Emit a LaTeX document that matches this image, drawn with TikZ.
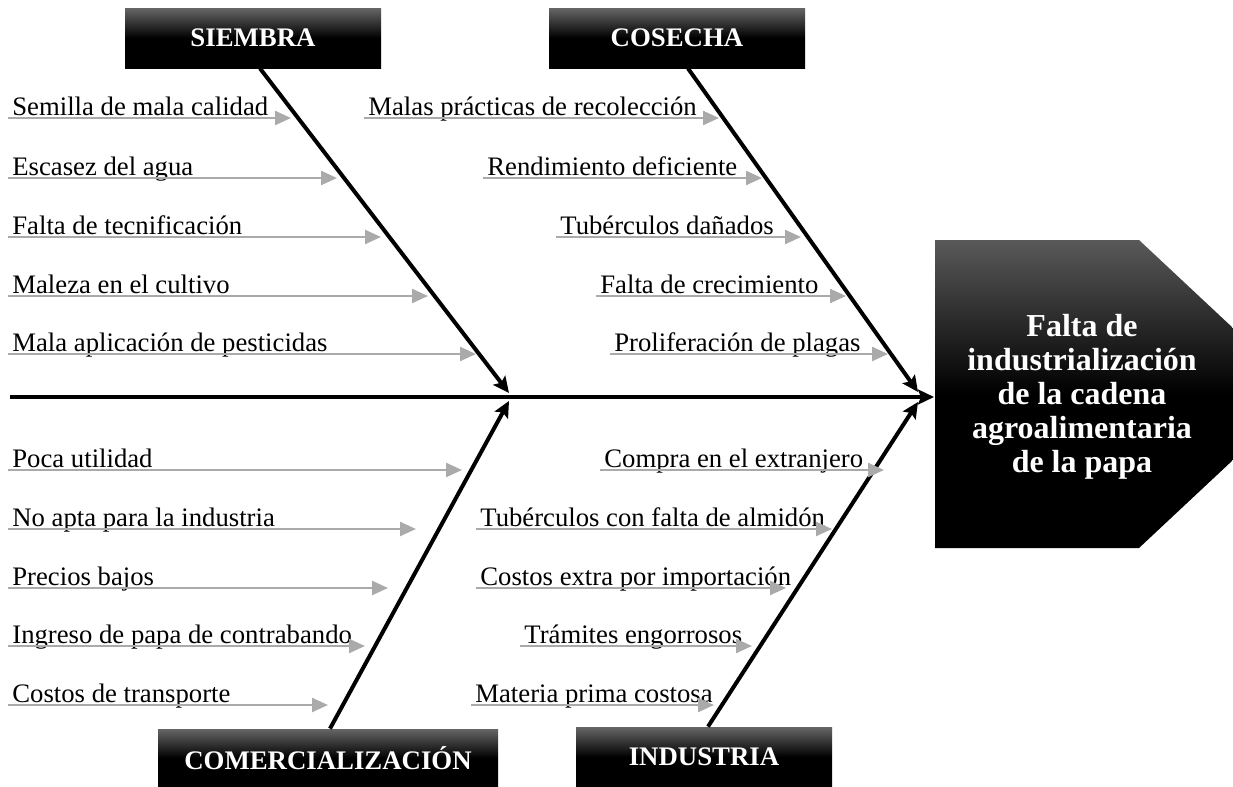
\documentclass[tikz,border=0pt]{standalone}
\usepackage{fontspec}
\setmainfont{Liberation Serif}
\usetikzlibrary{arrows.meta}
\definecolor{grisflecha}{RGB}{170,170,170}

\begin{document}
\begin{tikzpicture}[x=0.5pt,y=-0.5pt,
  causa/.style={font=\fontsize{13.35}{16}\selectfont, anchor=base west, inner sep=0pt},
  flecha/.style={grisflecha, line width=1.2pt, -{Triangle[length=8pt,width=7pt]}},
  espina/.style={line width=2pt, -{Stealth[length=8pt,width=7.5pt,inset=1.5pt]}},
  caja/.style={top color=black!60, bottom color=black, middle color=black, text=white,
    font=\fontsize{13.4}{16}\selectfont\bfseries, inner sep=0pt, minimum height=30pt}]

\useasboundingbox (0,0) rectangle (1233,787);

% cabeza
\shade[top color=black!65, bottom color=black, middle color=black]
  (935,240) -- (1139,240) -- (1233,328) -- (1233,460) -- (1139,548) -- (935,548) -- cycle;
\node[text=white, align=center, font=\fontsize{16}{17}\selectfont\bfseries] (efecto) at (1082,397)
  {Falta de\\industrialización\\de la cadena\\agroalimentaria\\de la papa};

% categorias
\node[caja, minimum width=128pt] (siembra) at (253,38) {SIEMBRA};
\node[caja, minimum width=128pt] (cosecha) at (677,38) {COSECHA};
\node[caja, minimum width=170pt, minimum height=29pt] (comer) at (328,758) {COMERCIALIZACIÓN};
\node[caja, minimum width=128pt] (industria) at (704,757) {INDUSTRIA};

% espina central
\coordinate (cola) at (10,397);
\coordinate (punta) at (934,397);
\draw[line width=1.7pt, -{Stealth[length=8pt,width=7.5pt,inset=1.5pt]}] (cola) -- (punta);

\coordinate (s1) at (509,393);
\coordinate (s2) at (509,401);
\coordinate (c1) at (918,392);
\coordinate (c2) at (918,402);
\draw[espina] ([xshift=3.5pt]siembra.south) -- (s1);
\draw[espina] ([xshift=5.5pt]cosecha.south) -- (c1);
\draw[espina] ([xshift=1pt]comer.north) -- (s2);
\draw[espina] ([xshift=2pt]industria.north) -- (c2);

% causas
\foreach \y/\xi/\xf/\t [count=\i] in {
  118/8/291/Semilla de mala calidad,
  178/8/337/Escasez del agua,
  237/8/381/Falta de tecnificación,
  296/8/428/Maleza en el cultivo,
  354/8/476/Mala aplicación de pesticidas,
  118/364/719/Malas prácticas de recolección,
  178/483/762/Rendimiento deficiente,
  237/556/801/Tubérculos dañados,
  296/596/846/Falta de crecimiento,
  354/610/888/Proliferación de plagas,
  470/8/462/Poca utilidad,
  529/8/416/No apta para la industria,
  588/8/388/Precios bajos,
  646/8/365/Ingreso de papa de contrabando,
  705/8/328/Costos de transporte,
  470/600/884/Compra en el extranjero,
  529/476/832/Tubérculos con falta de almidón,
  588/476/786/Costos extra por importación,
  646/520/752/Trámites engorrosos,
  705/471/714/Materia prima costosa}
{
  \coordinate (a\i) at (\xi,\y);
  \coordinate (b\i) at (\xf,\y);
  \node[causa] (t\i) at ([xshift=2pt,yshift=1.5pt]a\i) {\t};
  \draw[flecha] (a\i) -- (b\i);
}

\end{tikzpicture}
\end{document}
